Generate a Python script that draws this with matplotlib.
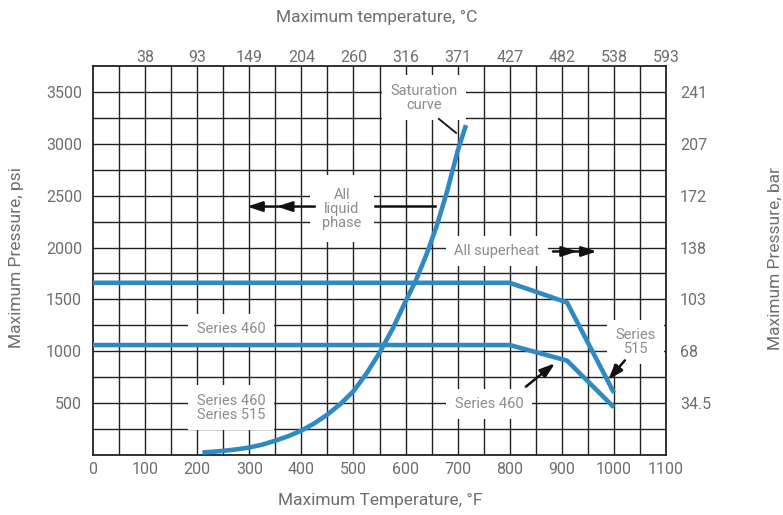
import matplotlib
matplotlib.use("Agg")
import matplotlib.pyplot as plt
from matplotlib import font_manager

# ---------------- data ----------------
temp_f_ticks = [0, 100, 200, 300, 400, 500, 600, 700, 800, 900, 1000, 1100]
temp_c_labels = ["38", "93", "149", "204", "260", "316", "371", "427", "482", "538", "593"]
psi_ticks = [500, 1000, 1500, 2000, 2500, 3000, 3500]
bar_labels = ["34.5", "68", "103", "138", "172", "207", "241"]

series515_t = [0, 800, 910, 1000]
series515_p = [1660, 1660, 1470, 600]

series460_t = [0, 800, 910, 1000]
series460_p = [1060, 1060, 910, 460]

sat_t = [210, 230, 250, 275, 300, 325, 350, 375, 400, 425, 450, 475, 500, 525, 550, 575,
         600, 620, 640, 660, 680, 700, 716]
sat_p = [25, 31, 40, 54, 72, 100, 138, 182, 235, 305, 390, 492, 615, 785, 985, 1215,
         1480, 1685, 1930, 2210, 2545, 2930, 3180]

# ---------------- style ----------------
names = {f.name for f in font_manager.fontManager.ttflist}
fam = "Liberation Sans Narrow" if "Liberation Sans Narrow" in names else "Roboto"
plt.rcParams["font.family"] = [fam, "DejaVu Sans"]

BLUE = "#2f8ac4"
GRID = "#222222"
TXT = "#6e6e6e"
ANN = "#8c8c8c"

fig = plt.figure(figsize=(7.83, 5.15), dpi=100)
ax = fig.add_axes([93 / 783, 1 - 455 / 515, (666 - 93) / 783, (455 - 66) / 515])
ax.set_xlim(0, 1100)
ax.set_ylim(0, 3750)

# grid
for xv in range(50, 1100, 50):
    ax.axvline(xv, color=GRID, lw=1.0, zorder=1)
for yv in range(250, 3750, 250):
    ax.axhline(yv, color=GRID, lw=1.0, zorder=1)
for s in ax.spines.values():
    s.set_color(GRID)
    s.set_linewidth(1.3)

ax.set_xticks(temp_f_ticks)
ax.set_xticklabels([str(t) for t in temp_f_ticks])
ax.set_yticks(psi_ticks)
ax.set_yticklabels([str(p) for p in psi_ticks])
ax.tick_params(axis="both", length=0, labelsize=11.5, colors=TXT)
ax.tick_params(axis="x", pad=5)
ax.tick_params(axis="y", pad=8)

axt = ax.twiny()
axt.set_xlim(ax.get_xlim())
axt.set_xticks(temp_f_ticks[1:])
axt.set_xticklabels(temp_c_labels)
axt.tick_params(length=0, labelsize=11.5, colors=TXT, pad=0.5)

axr = ax.twinx()
axr.set_ylim(ax.get_ylim())
axr.set_yticks(psi_ticks)
axr.set_yticklabels(bar_labels)
axr.tick_params(length=0, labelsize=11.5, colors=TXT, pad=10)
for a in (axt, axr):
    for s in a.spines.values():
        s.set_visible(False)

# curves
ax.plot(series515_t, series515_p, color=BLUE, lw=3.3, zorder=4, solid_capstyle="butt")
ax.plot(series460_t, series460_p, color=BLUE, lw=3.3, zorder=4, solid_capstyle="butt")
ax.plot(sat_t, sat_p, color=BLUE, lw=3.3, zorder=4, solid_capstyle="butt",
        solid_joinstyle="round")

# annotations
box = dict(facecolor="white", edgecolor="none", pad=6)
tk = dict(color=ANN, fontsize=10.5, ha="center", va="center", zorder=3, linespacing=1.0)

ax.text(635, 3445, "Saturation\ncurve", bbox=box, **tk)
ax.plot([664, 697], [3240, 3105], color="#111111", lw=1.3, zorder=5)

ax.text(478, 2375, "All\nliquid\nphase", bbox=dict(facecolor="white", edgecolor="none", pad=9), **tk)
ax.plot([541, 656], [2400, 2400], color="#111111", lw=1.8, zorder=5)
arr = dict(arrowstyle="-|>,head_length=0.9,head_width=0.3", color="#111111", lw=1.8,
           shrinkA=0, shrinkB=0)
ax.annotate("", xy=(353, 2395), xytext=(426, 2395), arrowprops=arr, zorder=5)
ax.annotate("", xy=(296, 2395), xytext=(360, 2395), arrowprops=arr, zorder=5)

ax.text(775, 1965, "All superheat", bbox=box, **tk)
ax.annotate("", xy=(929, 1962), xytext=(883, 1962), arrowprops=arr, zorder=5)
ax.annotate("", xy=(967, 1962), xytext=(920, 1962), arrowprops=arr, zorder=5)

ax.text(265, 1212, "Series 460", bbox=box, **tk)
ax.text(265, 455, "Series 460\nSeries 515", bbox=box, **tk)

ax.text(760, 492, "Series 460", bbox=box, **tk)
ax.annotate("", xy=(887, 884), xytext=(831, 659), arrowprops=arr, zorder=5)

ax.text(1042, 1090, "Series\n515", bbox=box, **tk)
ax.annotate("", xy=(989, 723), xytext=(1021, 912), arrowprops=arr, zorder=5)

# axis titles
fig.text(377 / 783, 1 - 17 / 515, "Maximum temperature, \u00b0C", ha="center", va="center",
         fontsize=12.5, color=TXT)
fig.text(380 / 783, 1 - 500 / 515, "Maximum Temperature, \u00b0F", ha="center", va="center",
         fontsize=12.5, color=TXT)
fig.text(17 / 783, 1 - 258 / 515, "Maximum Pressure, psi", ha="center", va="center",
         rotation=90, fontsize=12.5, color=TXT)
fig.text(775 / 783, 1 - 258 / 515, "Maximum Pressure, bar", ha="center", va="center",
         rotation=90, fontsize=12.5, color=TXT)

fig.savefig("out.png", dpi=100)
